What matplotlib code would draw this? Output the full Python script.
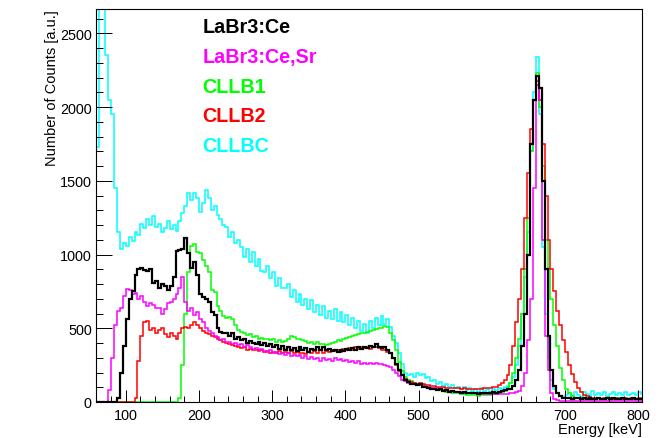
import numpy as np
import matplotlib
matplotlib.use("Agg")
import matplotlib.pyplot as plt

plt.rcParams["font.family"] = ["Liberation Sans", "DejaVu Sans"]

# histogram binning (keV)
bin_start = 56
bin_width = 4
edges = np.arange(bin_start, 809, bin_width)

# counts per bin, 10 bins per line (first line starts at 56 keV)
labr3_ce = [
    0, 0, 0, 0, 0, 0, 0, 0, 30, 200,
    380, 560, 700, 750, 860, 900, 910, 895, 890, 900,
    810, 820, 770, 800, 790, 760, 790, 850, 1025, 1030,
    1040, 1115, 1010, 910, 950, 860, 735, 710, 700, 680,
    610, 590, 500, 475, 470, 465, 450, 470, 430, 440,
    420, 430, 400, 415, 400, 390, 410, 385, 400, 380,
    395, 370, 385, 360, 380, 350, 375, 355, 365, 345,
    370, 350, 365, 340, 360, 350, 370, 355, 375, 350,
    360, 345, 355, 340, 350, 345, 360, 350, 365, 355,
    370, 360, 375, 365, 380, 370, 390, 375, 365, 370,
    350, 330, 300, 260, 220, 180, 150, 135, 125, 120,
    115, 120, 105, 100, 95, 90, 85, 80, 85, 75,
    78, 70, 72, 68, 65, 62, 65, 60, 62, 58,
    60, 57, 60, 58, 62, 60, 65, 62, 70, 75,
    80, 88, 90, 110, 150, 220, 380, 600, 1000, 1750,
    2050, 2210, 2130, 1500, 900, 450, 220, 110, 60, 40,
    30, 25, 28, 22, 26, 24, 20, 25, 22, 27,
    23, 20, 25, 22, 18, 24, 21, 26, 20, 23,
    25, 20, 22, 18, 24, 21, 19, 22,
]

labr3_ce_sr = [
    0, 0, 0, 0, 0, 80, 300, 520, 620, 640,
    720, 765, 760, 730, 740, 700, 720, 680, 650, 670,
    660, 640, 640, 600, 630, 670, 680, 700, 730, 770,
    845, 680, 620, 640, 590, 610, 560, 540, 500, 480,
    470, 450, 440, 420, 430, 410, 405, 395, 400, 385,
    390, 375, 385, 370, 360, 365, 350, 360, 345, 340,
    350, 335, 340, 325, 335, 320, 330, 315, 320, 310,
    320, 300, 310, 290, 305, 290, 300, 280, 295, 285,
    290, 280, 295, 285, 290, 275, 285, 270, 280, 265,
    275, 260, 265, 255, 265, 260, 265, 255, 260, 250,
    245, 235, 215, 195, 175, 150, 140, 130, 125, 120,
    115, 118, 110, 105, 100, 95, 92, 88, 85, 80,
    82, 75, 72, 70, 68, 66, 64, 62, 60, 60,
    58, 58, 56, 57, 55, 56, 55, 54, 55, 56,
    55, 57, 58, 60, 65, 75, 110, 200, 420, 700,
    1450, 2150, 2050, 1100, 450, 220, 60, 20, 12, 10,
    10, 8, 10, 9, 8, 10, 7, 9, 8, 10,
    8, 9, 7, 10, 8, 9, 8, 7, 9, 8,
    8, 9, 7, 8, 9, 7, 8, 9,
]

cllb1 = [
    0, 0, 0, 0, 0, 0, 0, 0, 0, 0,
    0, 0, 0, 0, 0, 0, 0, 0, 0, 0,
    0, 0, 0, 0, 0, 0, 0, 0, 0, 30,
    250, 600, 880, 1060, 1070, 1020, 1010, 960, 920, 880,
    760, 745, 650, 620, 580, 570, 575, 560, 520, 490,
    475, 470, 455, 460, 440, 445, 430, 435, 425, 430,
    420, 425, 410, 420, 405, 415, 425, 445, 440, 430,
    425, 420, 415, 400, 410, 395, 405, 390, 395, 385,
    395, 400, 410, 420, 415, 430, 435, 440, 450, 455,
    460, 465, 470, 475, 480, 490, 495, 500, 505, 515,
    510, 470, 420, 350, 270, 210, 170, 150, 140, 130,
    125, 120, 112, 105, 100, 95, 88, 82, 78, 74,
    70, 66, 62, 60, 58, 55, 52, 50, 48, 46,
    45, 44, 45, 46, 48, 50, 52, 56, 60, 66,
    75, 95, 130, 200, 300, 430, 600, 900, 1250, 1700,
    2050, 2230, 2000, 1600, 1100, 900, 700, 520, 380, 230,
    150, 90, 60, 40, 30, 26, 24, 22, 25, 20,
    23, 21, 24, 20, 22, 25, 19, 23, 21, 24,
    20, 22, 19, 23, 21, 20, 22, 24,
]

cllb2 = [
    0, 0, 0, 0, 0, 0, 0, 0, 0, 0,
    0, 0, 0, 0, 30, 280, 450, 540, 550, 490,
    500, 470, 490, 500, 460, 440, 470, 450, 430, 470,
    500, 510, 500, 520, 545, 520, 500, 480, 470, 460,
    450, 440, 430, 420, 410, 400, 395, 385, 380, 375,
    365, 370, 355, 360, 350, 355, 345, 350, 340, 345,
    335, 340, 330, 345, 335, 340, 330, 345, 335, 340,
    330, 335, 325, 340, 330, 345, 335, 350, 330, 345,
    340, 350, 345, 355, 340, 360, 350, 365, 355, 370,
    360, 375, 365, 370, 360, 375, 370, 365, 355, 350,
    340, 330, 300, 250, 210, 180, 155, 140, 135, 130,
    125, 128, 120, 118, 112, 110, 108, 105, 102, 100,
    98, 96, 95, 92, 94, 90, 92, 88, 90, 86,
    88, 90, 88, 92, 95, 98, 100, 105, 115, 130,
    150, 180, 250, 380, 540, 700, 900, 1250, 1550, 1850,
    2050, 2180, 2050, 1750, 1400, 1100, 900, 750, 620, 520,
    420, 340, 250, 190, 135, 95, 70, 50, 40, 32,
    28, 25, 30, 22, 26, 24, 28, 21, 25, 23,
    22, 26, 20, 24, 23, 21, 25, 22,
]

cllbc = [
    1450, 1730, 2900, 2900, 2350, 2050, 1950, 1450, 1150, 1040,
    1080, 1060, 1120, 1090, 1150, 1130, 1210, 1180, 1240, 1200,
    1260, 1190, 1210, 1150, 1180, 1230, 1170, 1200, 1160, 1230,
    1280, 1330, 1420, 1370, 1420, 1380, 1290, 1350, 1440, 1380,
    1300, 1330, 1270, 1240, 1200, 1190, 1120, 1150, 1080, 1100,
    1050, 980, 1040, 950, 1020, 920, 970, 890, 880, 920,
    840, 880, 790, 840, 770, 770, 800, 710, 760, 680,
    730, 660, 700, 630, 690, 610, 660, 590, 650, 570,
    620, 560, 630, 550, 610, 540, 590, 520, 570, 500,
    550, 480, 530, 470, 550, 500, 570, 520, 580, 530,
    560, 510, 450, 400, 330, 260, 200, 180, 190, 170,
    200, 180, 190, 160, 170, 140, 150, 125, 135, 110,
    120, 100, 115, 95, 105, 85, 100, 80, 95, 75,
    90, 70, 95, 75, 90, 70, 85, 80, 95, 90,
    100, 110, 130, 170, 250, 380, 600, 850, 1150, 1700,
    2100, 2340, 1950, 1050, 600, 300, 150, 90, 60, 40,
    35, 45, 60, 40, 70, 50, 35, 65, 55, 40,
    75, 50, 60, 45, 70, 40, 55, 65, 45, 60,
    50, 70, 45, 55, 60, 50, 65, 55,
]

names = ["LaBr3:Ce", "LaBr3:Ce,Sr", "CLLB1", "CLLB2", "CLLBC"]
colors = ["#000000", "#ff00ff", "#00ff00", "#ff0000", "#00ffff"]
series = [labr3_ce, labr3_ce_sr, cllb1, cllb2, cllbc]

fig = plt.figure(figsize=(6.61, 4.39), dpi=100)
ax = fig.add_axes([96 / 661, 1 - 403 / 439, 545.7 / 661, 393 / 439])

# draw back to front: cyan, green, red, magenta, black on top
for k in [4, 2, 3, 1, 0]:
    lw = 1.6 if k == 0 else 1.1
    ax.stairs(series[k], edges, baseline=None, color=colors[k], linewidth=lw)

ax.set_xlim(59.4, 804.6)
ax.set_ylim(0, 2665)

ax.set_xticks(np.arange(100, 801, 100))
ax.set_xticks(np.arange(60, 801, 20), minor=True)
ax.set_yticks(np.arange(0, 2501, 500))
ax.set_yticks(np.arange(0, 2601, 100), minor=True)

ax.tick_params(axis="both", which="both", direction="in", top=False, right=False,
               width=0.7, labelsize=10.4)
ax.tick_params(axis="y", which="major", length=11.3, pad=3)
ax.tick_params(axis="y", which="minor", length=5.3)
ax.tick_params(axis="x", which="major", length=8.5, pad=4)
ax.tick_params(axis="x", which="minor", length=4.2)

for sp in ax.spines.values():
    sp.set_linewidth(0.8)

fig.text(51.7 / 661, 1 - 10 / 439, "Number of Counts [a.u.]", rotation=90,
         ha="center", va="top", fontsize=10.5)
fig.text(641.7 / 661, 1 - 430 / 439, "Energy [keV]", ha="right", va="center",
         fontsize=10.5)

# legend as coloured text labels
baselines = [33.3, 62.7, 92.7, 121.7, 151.7]
for name, col, yb in zip(names, colors, baselines):
    fig.text(202.7 / 661, 1 - yb / 439, name, color=col, fontsize=14.2,
             fontweight="bold", ha="left", va="baseline")

fig.savefig("out.png", dpi=100)
